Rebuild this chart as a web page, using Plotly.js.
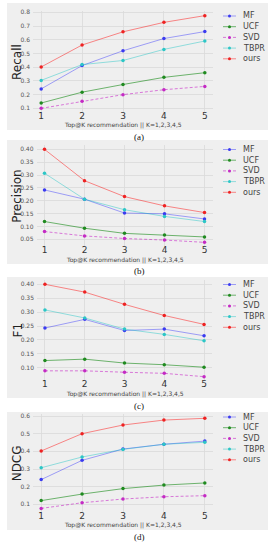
<!DOCTYPE html>
<html><head><meta charset="utf-8">
<script src="https://cdn.plot.ly/plotly-3.0.1.min.js"></script>
<style>html,body{margin:0;padding:0;background:#fff}#chart{width:278px;height:550px}</style>
</head><body><div id="chart"></div>
<script>
// ---- data ----
const K = [1, 2, 3, 4, 5];
const methods = ['MF', 'UCF', 'SVD', 'TBPR', 'ours'];

const recall_MF   = [0.242, 0.412, 0.520, 0.609, 0.660];
const recall_UCF  = [0.139, 0.218, 0.274, 0.326, 0.360];
const recall_SVD  = [0.100, 0.152, 0.200, 0.236, 0.260];
const recall_TBPR = [0.304, 0.419, 0.449, 0.530, 0.591];
const recall_ours = [0.402, 0.562, 0.658, 0.727, 0.776];

const prec_MF   = [0.242, 0.206, 0.152, 0.149, 0.129];
const prec_UCF  = [0.119, 0.093, 0.073, 0.067, 0.059];
const prec_SVD  = [0.080, 0.063, 0.053, 0.047, 0.038];
const prec_TBPR = [0.307, 0.206, 0.165, 0.139, 0.119];
const prec_ours = [0.400, 0.278, 0.216, 0.180, 0.154];

const f1_MF   = [0.243, 0.274, 0.234, 0.239, 0.215];
const f1_UCF  = [0.126, 0.131, 0.117, 0.111, 0.102];
const f1_SVD  = [0.089, 0.089, 0.084, 0.080, 0.068];
const f1_TBPR = [0.308, 0.279, 0.239, 0.220, 0.197];
const f1_ours = [0.400, 0.372, 0.328, 0.288, 0.256];

const ndcg_MF   = [0.240, 0.349, 0.413, 0.440, 0.458];
const ndcg_UCF  = [0.121, 0.158, 0.189, 0.209, 0.221];
const ndcg_SVD  = [0.077, 0.109, 0.130, 0.143, 0.149];
const ndcg_TBPR = [0.307, 0.368, 0.411, 0.440, 0.451];
const ndcg_ours = [0.402, 0.500, 0.549, 0.577, 0.587];

const recallTicks = [0.1, 0.2, 0.3, 0.4, 0.5, 0.6, 0.7, 0.8];
const precTicks   = [0.05, 0.10, 0.15, 0.20, 0.25, 0.30, 0.35, 0.40];
const f1Ticks     = [0.10, 0.15, 0.20, 0.25, 0.30, 0.35, 0.40];
const ndcgTicks   = [0.1, 0.2, 0.3, 0.4, 0.5, 0.6];

const xLabel = 'Top@K recommendation || K=1,2,3,4,5';
const captions = ['(a)', '(b)', '(c)', '(d)'];
const yTitles = ['Recall', 'Precision', 'F1', 'NDCG'];

// ---- styling ----
const W = 278, H = 550;
const lineCol = {MF:'rgba(0,0,255,0.35)', UCF:'rgba(0,128,0,0.55)', SVD:'rgba(191,0,191,0.5)', TBPR:'rgba(0,191,191,0.4)', ours:'rgba(255,0,0,0.45)'};
const markCol = {MF:'#3a3af0', UCF:'#1f8a1f', SVD:'#c42ac4', TBPR:'#2cc6c6', ours:'#ee2222'};
const dashes = {MF:'solid', UCF:'solid', SVD:'3px,2px', TBPR:'solid', ours:'solid'};

const panels = [
  {series:[recall_MF, recall_UCF, recall_SVD, recall_TBPR, recall_ours], ticks:recallTicks, fmt:'.1f',
   x0:33, x1:213, top:11, bot:113, bg:[3,130], xlab:125.5, cap:137, leg:16},
  {series:[prec_MF, prec_UCF, prec_SVD, prec_TBPR, prec_ours], ticks:precTicks, fmt:'.2f',
   x0:36.5, x1:212.5, top:144.7, bot:247, bg:[140,264], xlab:260, cap:271, leg:149.5},
  {series:[f1_MF, f1_UCF, f1_SVD, f1_TBPR, f1_ours], ticks:f1Ticks, fmt:'.2f',
   x0:37, x1:212, top:279.7, bot:381.3, bg:[277,398], xlab:393.5, cap:406, leg:284.5},
  {series:[ndcg_MF, ndcg_UCF, ndcg_SVD, ndcg_TBPR, ndcg_ours], ticks:ndcgTicks, fmt:'.1f',
   x0:33, x1:213, top:413.8, bot:512.9, bg:[412,530], xlab:524.5, cap:537, leg:417}
];

const fx = p => p / W;
const fy = p => 1 - p / H;

const traces = [];
const layout = {
  width: W, height: H, margin: {l:0, r:0, t:0, b:0},
  paper_bgcolor: '#ffffff', plot_bgcolor: 'rgba(0,0,0,0)',
  showlegend: false, shapes: [], annotations: [],
  font: {family: 'DejaVu Sans', color: '#333'}
};

panels.forEach((p, i) => {
  const n = i === 0 ? '' : String(i + 1);
  const all = [].concat(...p.series);
  const lo = Math.min(...all), hi = Math.max(...all), pad = (hi - lo) * 0.05;
  layout['xaxis' + n] = {
    domain: [fx(p.x0), fx(p.x1)], range: [0.8, 5.2], anchor: 'y' + n,
    tickvals: K, ticks: '', showline: false, zeroline: false,
    showgrid: true, gridcolor: '#dadada', gridwidth: 0.8,
    tickfont: {size: 9, color: '#333'}, ticklabelstandoff: -4, fixedrange: true
  };
  layout['yaxis' + n] = {
    domain: [fy(p.bot), fy(p.top)], range: [lo - pad, hi + pad], anchor: 'x' + n,
    tickvals: p.ticks, tickformat: p.fmt, ticks: '', showline: false, zeroline: false,
    showgrid: true, gridcolor: '#dadada', gridwidth: 0.8,
    tickfont: {size: 6, color: '#555'}, ticklabelstandoff: 2, fixedrange: true
  };
  methods.forEach((m, j) => {
    traces.push({
      type: 'scatter', mode: 'lines+markers', name: m, x: K, y: p.series[j],
      xaxis: 'x' + n, yaxis: 'y' + n,
      line: {color: lineCol[m], width: 1, dash: dashes[m]},
      marker: {color: markCol[m], size: 3.5, symbol: 'circle'}
    });
    // custom legend row
    const ry = p.leg + j * 10.7;
    layout.shapes.push({type:'line', xref:'paper', yref:'paper', x0:fx(223), x1:fx(236), y0:fy(ry), y1:fy(ry),
      line:{color: lineCol[m], width:1, dash: dashes[m]}});
    layout.shapes.push({type:'circle', xref:'paper', yref:'paper', x0:fx(228), x1:fx(231), y0:fy(ry+1.5), y1:fy(ry-1.5),
      fillcolor: markCol[m], line:{width:0}});
    layout.annotations.push({xref:'paper', yref:'paper', x:fx(241), y:fy(ry), xanchor:'left', yanchor:'middle',
      text: m, showarrow:false, font:{size:8, color:'#444', family:'DejaVu Sans'}});
  });
  // panel background
  layout.shapes.push({type:'rect', xref:'paper', yref:'paper', layer:'below',
    x0:fx(7), x1:fx(268), y0:fy(p.bg[1]), y1:fy(p.bg[0]), fillcolor:'#efefef', line:{width:0}});
  // y title
  layout.annotations.push({xref:'paper', yref:'paper', x:fx(17), y:fy((p.top + p.bot) / 2), xanchor:'center', yanchor:'middle',
    text: yTitles[i], textangle:-90, showarrow:false, font:{size:12, color:'#222', family:'DejaVu Sans'}});
  // x label
  layout.annotations.push({xref:'paper', yref:'paper', x:fx((p.x0 + p.x1) / 2), y:fy(p.xlab), xanchor:'center', yanchor:'middle',
    text: xLabel, showarrow:false, font:{size:6, color:'#444', family:'DejaVu Sans'}});
  // caption
  layout.annotations.push({xref:'paper', yref:'paper', x:fx(139), y:fy(p.cap), xanchor:'center', yanchor:'middle',
    text: captions[i], showarrow:false, font:{size:9, color:'#111', family:'Liberation Serif'}});
});

Plotly.newPlot('chart', traces, layout, {staticPlot: true, displayModeBar: false});
</script>
</body></html>
